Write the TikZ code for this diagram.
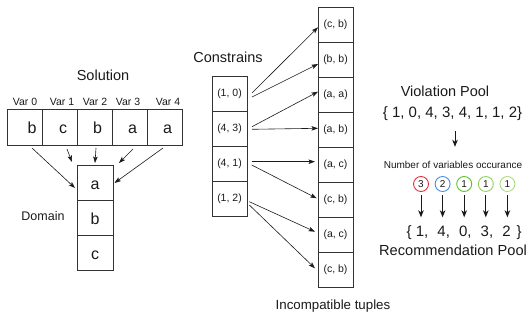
\documentclass[tikz,border=0pt]{standalone}
\usepackage{fontspec}
\setmainfont{Liberation Sans}
\usetikzlibrary{arrows.meta}
\newcommand{\setfs}[1]{\fontsize{#1pt}{#1pt}\selectfont}

\definecolor{ink}{HTML}{1A1A1A}
\definecolor{cred}{HTML}{E0303C}
\definecolor{cblue}{HTML}{4A8FE0}
\definecolor{cgreen}{HTML}{5CBF2A}
\definecolor{clgreen}{HTML}{8ED35A}
\definecolor{cpgreen}{HTML}{A9DD80}

\begin{document}
\begin{tikzpicture}[x=1pt,y=-1pt,
  every node/.style={text=ink},
  cellbase/.style={draw=black!80, line width=0.9pt, inner sep=0pt, outer sep=0pt,
                   minimum width=35pt, minimum height=35pt},
  letter/.style={cellbase, font=\setfs{16}, text height=14pt, text depth=0pt},
  tuple/.style={cellbase, font=\setfs{10.5}},
  title/.style={font=\setfs{14.5}},
  small/.style={font=\setfs{10.5}},
  arr/.style={draw=ink, line width=0.6pt, -{Stealth[length=6.5pt,width=4.5pt,inset=1.5pt]}},
  varr/.style={draw=ink, line width=1pt, -{Stealth[length=7pt,width=5.5pt,inset=2pt]}},
  count/.style={circle, draw=#1, line width=0.9pt, minimum size=15pt, inner sep=0pt, font=\setfs{10}},
  nudge/.style={execute at begin node={\hspace*{#1}}}
]
\useasboundingbox (0,0) rectangle (527,320);

% ---------- solution ----------
\node[title] (soltitle) at (103,75) {Solution};
\node[small] (v0) at (25,102) {Var 0};
\node[small] (v1) at (62,102) {Var 1};
\node[small] (v2) at (95,102) {Var 2};
\node[small] (v3) at (128,102) {Var 3};
\node[small] (v4) at (168,102) {Var 4};

\node[letter, minimum height=36pt, nudge=15pt] (s0) at (24.5,127) {b};
\node[letter, minimum height=36pt, nudge=7pt]  (s1) at (59.5,127) {c};
\node[letter, minimum height=36pt, nudge=6pt]  (s2) at (94.5,127) {b};
\node[letter, minimum height=36pt, nudge=6pt]  (s3) at (129.5,127) {a};
\node[letter, minimum height=36pt, nudge=6pt]  (s4) at (164.5,127) {a};

% ---------- domain ----------
\node[letter, minimum width=36pt] (d0) at (95,182.5) {a};
\node[letter, minimum width=36pt] (d1) at (95,217.5) {b};
\node[letter, minimum width=36pt] (d2) at (95,252.5) {c};
\node[font=\setfs{12.5}] (domtitle) at (43,216) {Domain};

\draw[arr] ([shift={(7.5,3)}]s0.south) -- ([shift={(-2,5.5)}]d0.west);
\draw[arr] ([shift={(7.5,4)}]s1.south) -- ([shift={(-5,-3)}]d0.north west);
\draw[arr] ([shift={(1.5,3)}]s2.south) -- ([shift={(0,-2)}]d0.north);
\draw[arr] ([shift={(3.5,4)}]s3.south) -- ([shift={(6,-2)}]d0.north east);
\draw[arr] ([shift={(-1.5,3)}]s4.south) -- ([shift={(1.5,0.5)}]d0.east);

% ---------- constraints ----------
\node[title] (contitle) at (228,57.5) {Constrains};
\node[tuple] (c0) at (229.5,93.5)  {(1, 0)};
\node[tuple] (c1) at (229.5,128.5) {(4, 3)};
\node[tuple] (c2) at (229.5,163.5) {(4, 1)};
\node[tuple] (c3) at (229.5,198.5) {(1, 2)};

% ---------- incompatible tuples ----------
\node[tuple] (t0) at (335.5,24.5)  {(c, b)};
\node[tuple] (t1) at (335.5,59.5)  {(b, b)};
\node[tuple] (t2) at (335.5,94.5)  {(a, a)};
\node[tuple] (t3) at (335.5,129.5) {(a, b)};
\node[tuple] (t4) at (335.5,164.5) {(a, c)};
\node[tuple] (t5) at (335.5,199.5) {(c, b)};
\node[tuple] (t6) at (335.5,234.5) {(a, c)};
\node[tuple] (t7) at (335.5,269.5) {(c, b)};
\node[font=\setfs{13.3}] (inctitle) at (333,306) {Incompatible tuples};

\draw[arr] ([shift={(5,-0.5)}]c0.east) -- ([shift={(0,2.8)}]t0.west);
\draw[arr] ([shift={(5,3.5)}]c0.east)  -- ([shift={(0,4.5)}]t1.west);
\draw[arr] ([shift={(5,-1.8)}]c1.east) -- ([shift={(0,-2.8)}]t2.west);
\draw[arr] ([shift={(5,0.8)}]c1.east)  -- ([shift={(0,-1.2)}]t3.west);
\draw[arr] ([shift={(4.7,-1.8)}]c2.east) -- ([shift={(-3,-2.8)}]t4.west);
\draw[arr] ([shift={(4.7,1.5)}]c2.east)  -- ([shift={(-1.3,-1.2)}]t5.west);
\draw[arr] ([shift={(2.3,3.2)}]c3.east)  -- ([shift={(-3,-2.8)}]t6.west);
\draw[arr] ([shift={(2.3,6.5)}]c3.east)  -- ([shift={(-3,-1.2)}]t7.west);

% ---------- violation / recommendation pools ----------
\node[title] (vptitle) at (445,91) {Violation Pool};
\node[font=\setfs{15}] (vset) at (452.5,113.3) {\{ 1, 0, 4, 3, 4, 1, 1, 2\}};
\node[font=\setfs{10}] (occ) at (453,165) {Number of variables occurance};
\draw[varr] ([shift={(2.5,7)}]vset.south) -- ([shift={(2,-11)}]occ.north);

\node[count=cred]    (k0) at (421,184)   {3};
\node[count=cblue]   (k1) at (442.6,184) {2};
\node[count=cgreen]  (k2) at (464.2,184) {1};
\node[count=clgreen] (k3) at (485.8,184) {1};
\node[count=cpgreen] (k4) at (507.4,184) {1};

\node[font=\setfs{15}, inner sep=0pt, anchor=base west] (rset) at (406.5,236.4)
  {\{ 1,\hspace{9.1pt}4,\hspace{9.1pt}0,\hspace{9.1pt}3,\hspace{9.1pt}2\hspace{6pt}\}};
\node[font=\setfs{14.6}, inner sep=0pt, anchor=west] (rptitle) at (379,250.5) {Recommendation Pool};

\foreach \k in {0,...,4}
  \draw[varr] ([shift={(0,3.5)}]k\k.south) -- ([shift={(0,-8)}]k\k.south |- rset.north);

\end{tikzpicture}
\end{document}
